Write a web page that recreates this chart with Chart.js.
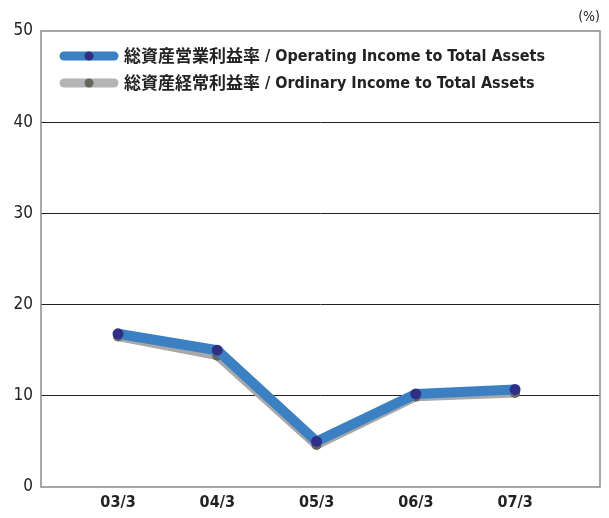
<!DOCTYPE html>
<html>
<head>
<meta charset="utf-8">
<script src="https://cdn.jsdelivr.net/npm/chart.js@4/dist/chart.umd.min.js"></script>
<style>
  html, body { margin: 0; padding: 0; background: #fff; }
  #wrap { width: 609px; height: 518px; position: relative; }
</style>
</head>
<body>
<div id="wrap"><canvas id="chart"></canvas></div>
<script>
// data
var categories = ['03/3', '04/3', '05/3', '06/3', '07/3'];
var operatingRoa = [16.8, 15.0, 5.0, 10.2, 10.7];
var ordinaryRoa = [16.5, 14.4, 4.6, 9.9, 10.3];
var yTicks = [0, 10, 20, 30, 40, 50];
var labelOperating = '総資産営業利益率 / Operating Income to Total Assets';
var labelOrdinary = '総資産経常利益率 / Ordinary Income to Total Assets';

var FONT = '"DejaVu Sans Condensed", "Noto Sans CJK JP", sans-serif';
var CJK = '"Noto Sans CJK JP", sans-serif';
var BLUE = '#3a80c3', NAVY = '#2e2f85', GREY = '#a8a8a8', OLIVE = '#66665a';

function toPoints(arr) {
  return arr.map(function (v, i) { return { x: i, y: v }; });
}

// frame, legend and unit label drawn on top of the chart
var decor = {
  id: 'decor',
  beforeDatasetsDraw: function (chart) {
    var ctx = chart.ctx, a = chart.chartArea;
    ctx.save();
    ctx.strokeStyle = '#8a8a8a';
    ctx.lineWidth = 1.5;
    ctx.strokeRect(a.left, a.top, a.right - a.left, a.bottom - a.top);
    ctx.restore();
  },
  afterDraw: function (chart) {
    var ctx = chart.ctx;
    ctx.save();
    var rows = [
      { y: 56, line: BLUE, dot: NAVY, text: chart.data.datasets[0].label },
      { y: 83, line: '#b4b4b4', dot: OLIVE, text: chart.data.datasets[1].label }
    ];
    rows.forEach(function (r) {
      ctx.lineCap = 'round';
      ctx.lineWidth = 9;
      ctx.strokeStyle = r.line;
      ctx.beginPath();
      ctx.moveTo(64, r.y);
      ctx.lineTo(114, r.y);
      ctx.stroke();
      ctx.fillStyle = r.dot;
      ctx.beginPath();
      ctx.arc(89, r.y, 4.5, 0, Math.PI * 2);
      ctx.fill();
      // japanese part larger, latin part condensed
      var parts = r.text.split(' / ');
      ctx.fillStyle = '#222';
      ctx.textBaseline = 'middle';
      ctx.textAlign = 'left';
      ctx.font = 'bold 17px ' + CJK;
      ctx.fillText(parts[0], 124, r.y);
      var x = 124 + ctx.measureText(parts[0]).width + 5;
      ctx.font = 'bold 16px ' + FONT;
      ctx.fillText('/ ' + parts[1], x, r.y + 1);
    });
    ctx.font = '14px ' + FONT;
    ctx.textAlign = 'right';
    ctx.fillStyle = '#222';
    ctx.fillText('(%)', 600, 17);
    ctx.restore();
  }
};

new Chart(document.getElementById('chart'), {
  type: 'line',
  data: {
    datasets: [{
      label: labelOperating,
      data: toPoints(operatingRoa),
      borderColor: BLUE,
      borderWidth: 10,
      backgroundColor: NAVY,
      pointBackgroundColor: NAVY,
      pointBorderWidth: 0,
      pointRadius: 5.5,
      borderJoinStyle: 'round',
      tension: 0
    }, {
      label: labelOrdinary,
      data: toPoints(ordinaryRoa),
      borderColor: GREY,
      borderWidth: 9,
      backgroundColor: OLIVE,
      pointBackgroundColor: OLIVE,
      pointBorderWidth: 0,
      pointRadius: 5,
      borderJoinStyle: 'round',
      tension: 0
    }]
  },
  options: {
    responsive: true,
    maintainAspectRatio: false,
    animation: false,
    layout: { padding: { top: 31, right: 9, left: 0, bottom: 0 } },
    plugins: { legend: { display: false }, tooltip: { enabled: false } },
    scales: {
      x: {
        type: 'linear',
        min: -0.776,
        max: 4.856,
        afterBuildTicks: function (scale) {
          scale.ticks = categories.map(function (_, i) { return { value: i }; });
        },
        afterFit: function (scale) { scale.height = 31; },
        grid: { display: false, drawTicks: false },
        border: { display: false },
        ticks: {
          autoSkip: false,
          maxRotation: 0,
          padding: 6,
          color: '#222',
          font: { family: FONT, size: 16, weight: 'bold' },
          callback: function (v) { return categories[v]; }
        }
      },
      y: {
        min: 0,
        max: 50,
        afterBuildTicks: function (scale) {
          scale.ticks = yTicks.map(function (v) { return { value: v }; });
        },
        afterFit: function (scale) { scale.width = 41; },
        border: { display: false },
        grid: {
          drawTicks: false,
          lineWidth: 1,
          color: function (c) {
            return (c.tick && (c.tick.value === 0 || c.tick.value === 50)) ? 'rgba(0,0,0,0)' : '#222';
          }
        },
        ticks: {
          padding: 8,
          color: '#222',
          font: { family: FONT, size: 17 }
        }
      }
    }
  },
  plugins: [decor]
});
</script>
</body>
</html>
